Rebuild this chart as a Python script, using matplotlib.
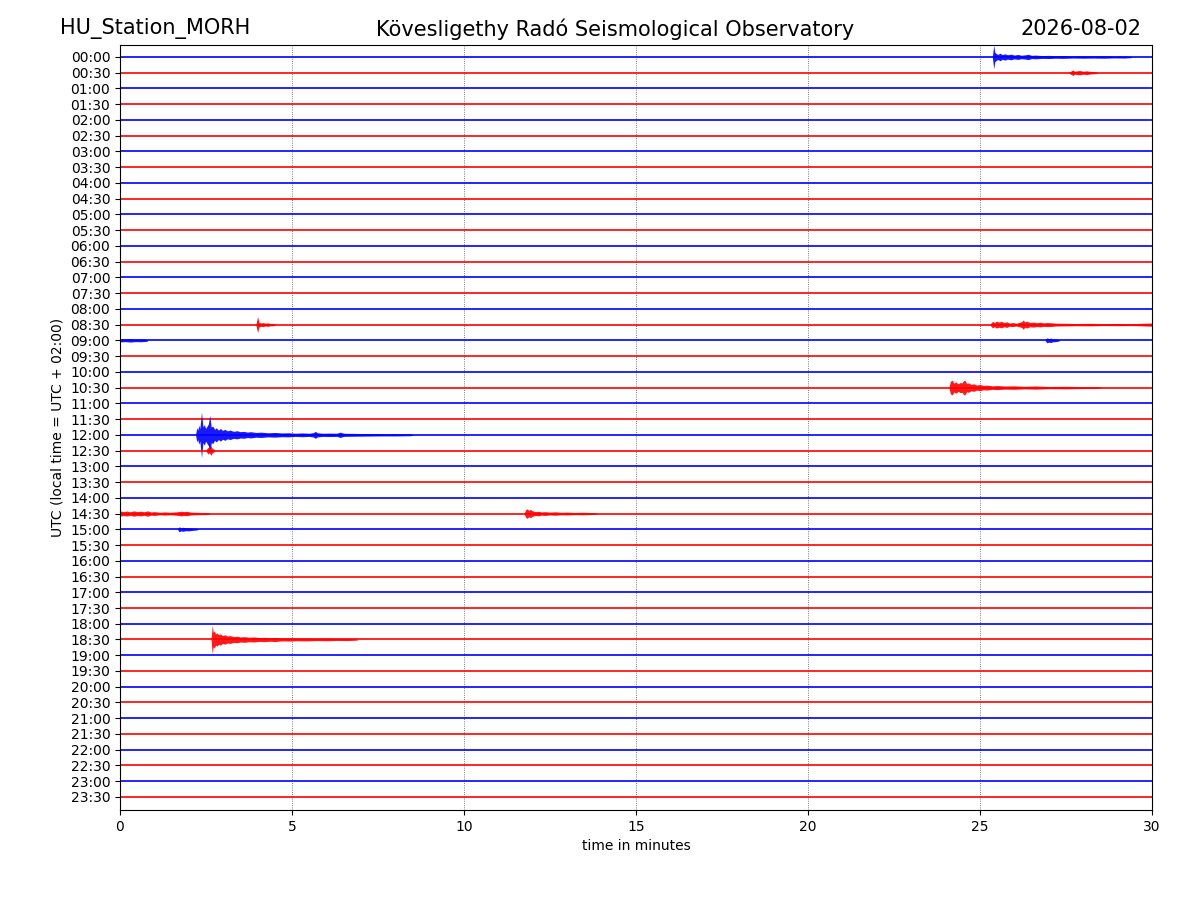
import matplotlib
matplotlib.use("Agg")
import matplotlib.pyplot as plt
import numpy as np

# one trace per half hour, alternating blue / red
rows = ["00:00", "00:30", "01:00", "01:30", "02:00", "02:30", "03:00", "03:30",
        "04:00", "04:30", "05:00", "05:30", "06:00", "06:30", "07:00", "07:30",
        "08:00", "08:30", "09:00", "09:30", "10:00", "10:30", "11:00", "11:30",
        "12:00", "12:30", "13:00", "13:30", "14:00", "14:30", "15:00", "15:30",
        "16:00", "16:30", "17:00", "17:30", "18:00", "18:30", "19:00", "19:30",
        "20:00", "20:30", "21:00", "21:30", "22:00", "22:30", "23:00", "23:30"]
trace_colors = ["b", "r"]
minutes = [0, 30]

# event envelopes:
# minute within the row, half amplitude in units of row spacing
ev0000_t = [25.36, 25.40, 25.43, 25.47, 25.52, 25.58, 25.65, 25.72, 25.8, 25.9, 26.0, 26.1, 26.2,
            26.3, 26.4, 26.5, 26.6, 26.8, 27.0, 27.2, 27.4, 27.7, 28.0, 28.3, 28.6, 28.9, 29.2, 29.4]
ev0000_a = [0.05, 0.74, 0.30, 0.22, 0.16, 0.24, 0.15, 0.20, 0.14, 0.18, 0.12, 0.16, 0.11,
            0.13, 0.17, 0.10, 0.12, 0.09, 0.10, 0.08, 0.09, 0.07, 0.08, 0.07, 0.08, 0.06, 0.07, 0.04]
ev0030_t = [27.6, 27.7, 27.75, 27.82, 27.9, 28.0, 28.1, 28.2, 28.3, 28.4]
ev0030_a = [0.05, 0.18, 0.09, 0.12, 0.14, 0.09, 0.12, 0.08, 0.07, 0.04]
ev0830a_t = [3.95, 4.0, 4.04, 4.1, 4.16, 4.22, 4.3, 4.38, 4.45, 4.5]
ev0830a_a = [0.05, 0.50, 0.15, 0.10, 0.13, 0.09, 0.11, 0.07, 0.08, 0.04]
ev0830b_t = [25.3, 25.36, 25.42, 25.48, 25.55, 25.62, 25.7, 25.78, 25.85, 25.95, 26.05, 26.15, 26.22,
             26.26, 26.3, 26.36, 26.45, 26.55, 26.65, 26.75, 26.85, 26.95, 27.05, 27.2, 27.5, 27.8,
             28.2, 28.6, 29.0, 29.4, 29.7, 30.0]
ev0830b_a = [0.05, 0.20, 0.14, 0.22, 0.16, 0.21, 0.13, 0.18, 0.10, 0.13, 0.09, 0.14, 0.20,
             0.30, 0.16, 0.22, 0.13, 0.16, 0.12, 0.15, 0.11, 0.13, 0.12, 0.09, 0.08, 0.07,
             0.08, 0.06, 0.07, 0.06, 0.08, 0.10]
ev0900a_t = [0.0, 0.15, 0.3, 0.45, 0.6, 0.75, 0.8]
ev0900a_a = [0.10, 0.08, 0.11, 0.08, 0.09, 0.07, 0.04]
ev0900b_t = [26.9, 26.95, 27.0, 27.06, 27.12, 27.2, 27.3]
ev0900b_a = [0.05, 0.16, 0.11, 0.14, 0.09, 0.08, 0.04]
ev1030_t = [24.1, 24.14, 24.19, 24.24, 24.3, 24.36, 24.42, 24.48, 24.52, 24.56, 24.61, 24.67, 24.74,
            24.82, 24.9, 25.0, 25.1, 25.2, 25.35, 25.5, 25.7, 26.0, 26.3, 26.6, 27.0, 27.5, 28.0, 28.4, 28.5]
ev1030_a = [0.05, 0.40, 0.47, 0.28, 0.36, 0.24, 0.32, 0.30, 0.44, 0.47, 0.26, 0.30, 0.20,
            0.24, 0.16, 0.20, 0.13, 0.16, 0.11, 0.13, 0.10, 0.11, 0.08, 0.10, 0.07, 0.08, 0.06, 0.06, 0.04]
ev1200_t = [2.20, 2.23, 2.26, 2.29, 2.32, 2.37, 2.41, 2.45, 2.49, 2.53, 2.57, 2.61, 2.65, 2.70,
            2.75, 2.80, 2.86, 2.92, 2.98, 3.05, 3.12, 3.2, 3.3, 3.4, 3.5, 3.6, 3.7, 3.8, 3.95,
            4.1, 4.3, 4.5, 4.7, 4.9, 5.1, 5.3, 5.5, 5.62, 5.68, 5.74, 5.9, 6.1, 6.3, 6.4, 6.5,
            6.8, 7.2, 7.6, 8.0, 8.4, 8.5]
ev1200_a = [0.05, 0.45, 0.30, 0.60, 0.40, 1.45, 0.50, 0.65, 0.40, 0.55, 0.70, 1.25, 0.50, 0.55,
            0.35, 0.45, 0.30, 0.40, 0.28, 0.35, 0.25, 0.30, 0.22, 0.26, 0.20, 0.22, 0.17, 0.20, 0.15,
            0.17, 0.13, 0.15, 0.12, 0.13, 0.10, 0.12, 0.10, 0.14, 0.22, 0.13, 0.10, 0.11, 0.10, 0.17, 0.10,
            0.09, 0.08, 0.07, 0.07, 0.06, 0.04]
ev1230_t = [2.5, 2.56, 2.6, 2.64, 2.68, 2.75]
ev1230_a = [0.05, 0.22, 0.12, 0.30, 0.15, 0.05]
ev1430a_t = [0.0, 0.1, 0.2, 0.3, 0.4, 0.5, 0.6, 0.7, 0.8, 0.9, 1.0, 1.15, 1.3, 1.45, 1.6, 1.7,
             1.78, 1.85, 1.95, 2.05, 2.2, 2.35, 2.5, 2.6]
ev1430a_a = [0.17, 0.12, 0.16, 0.11, 0.17, 0.12, 0.15, 0.11, 0.17, 0.10, 0.12, 0.08, 0.10, 0.08, 0.10, 0.12,
             0.15, 0.12, 0.14, 0.09, 0.08, 0.07, 0.07, 0.04]
ev1430b_t = [11.75, 11.8, 11.84, 11.88, 11.93, 12.0, 12.08, 12.16, 12.25, 12.35, 12.5, 12.65, 12.8,
             13.0, 13.2, 13.45, 13.75, 13.85]
ev1430b_a = [0.05, 0.26, 0.30, 0.20, 0.26, 0.16, 0.12, 0.15, 0.10, 0.12, 0.09, 0.11, 0.08,
             0.09, 0.07, 0.08, 0.06, 0.04]
ev1500_t = [1.68, 1.72, 1.77, 1.83, 1.9, 2.0, 2.1, 2.25]
ev1500_a = [0.05, 0.16, 0.10, 0.13, 0.09, 0.10, 0.07, 0.04]
ev1830_t = [2.65, 2.68, 2.71, 2.74, 2.78, 2.82, 2.87, 2.92, 2.98, 3.05, 3.12, 3.2, 3.3, 3.4, 3.5,
            3.62, 3.75, 3.9, 4.05, 4.2, 4.36, 4.5, 4.7, 4.9, 5.14, 5.4, 5.7, 6.0, 6.3, 6.6, 6.8, 6.9]
ev1830_a = [0.05, 0.90, 0.45, 0.55, 0.35, 0.42, 0.30, 0.36, 0.25, 0.30, 0.22, 0.25, 0.18, 0.21, 0.16,
            0.18, 0.14, 0.16, 0.12, 0.14, 0.11, 0.13, 0.09, 0.10, 0.08, 0.09, 0.07, 0.08, 0.06, 0.07, 0.05, 0.04]

events = [
    ("00:00", ev0000_t, ev0000_a), ("00:30", ev0030_t, ev0030_a),
    ("08:30", ev0830a_t, ev0830a_a), ("08:30", ev0830b_t, ev0830b_a),
    ("09:00", ev0900a_t, ev0900a_a), ("09:00", ev0900b_t, ev0900b_a),
    ("10:30", ev1030_t, ev1030_a), ("12:00", ev1200_t, ev1200_a),
    ("12:30", ev1230_t, ev1230_a), ("14:30", ev1430a_t, ev1430a_a),
    ("14:30", ev1430b_t, ev1430b_a), ("15:00", ev1500_t, ev1500_a),
    ("18:30", ev1830_t, ev1830_a),
]

fig = plt.figure(figsize=(12, 9), dpi=100)
ax = fig.add_axes([0.1, 0.1, 0.86, 0.85])

offsets = -np.arange(len(rows))
for i, (label, y) in enumerate(zip(rows, offsets)):
    c = trace_colors[i % 2]
    z = 2 + i * 0.01  # later rows are drawn over earlier ones
    ax.plot(minutes, [y, y], color=c, lw=1.2, zorder=z)
    for ev_label, t, a in events:
        if ev_label == label:
            t = np.array(t)
            a = np.array(a)
            ax.fill_between(t, y - a, y + a, color=c, lw=0, alpha=0.9, zorder=z)

ax.set_xlim(0, 30)
ax.set_ylim(-47.83, 0.76)
ax.set_xticks([0, 5, 10, 15, 20, 25, 30])
ax.set_yticks(offsets)
ax.set_yticklabels(rows)
ax.grid(axis="x", color="k", ls=":", lw=0.6, alpha=0.7)
ax.set_xlabel("time in minutes")
ax.set_ylabel("UTC (local time = UTC + 02:00)")

fig.text(0.05, 0.968, "HU_Station_MORH", fontsize=15, ha="left", va="center")
fig.text(0.5125, 0.968, "Kövesligethy Radó Seismological Observatory", fontsize=15, ha="center", va="center")
fig.text(0.951, 0.968, "2026-08-02", fontsize=15, ha="right", va="center")

fig.savefig("out.png", dpi=100)
